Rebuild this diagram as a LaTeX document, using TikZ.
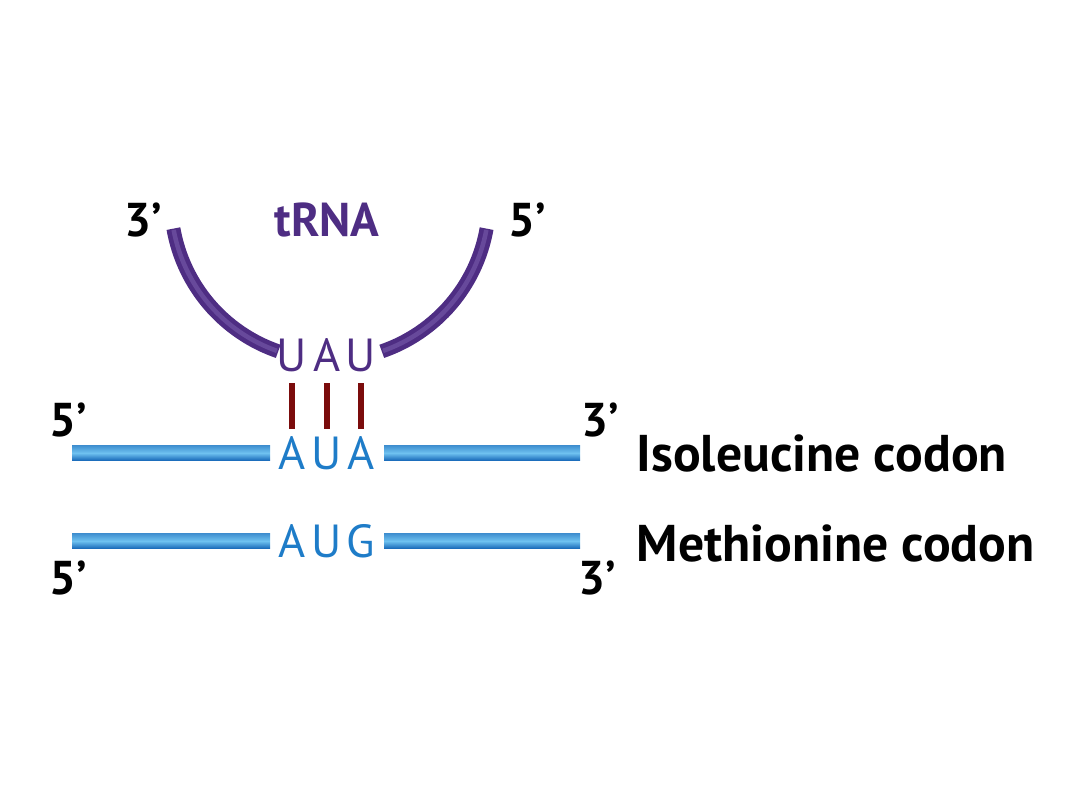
\documentclass[tikz,border=0pt]{standalone}
\usepackage{fontspec}
\setmainfont{PT Sans}
\usepackage{tikz}
\usetikzlibrary{positioning}

\definecolor{trnapurple}{HTML}{4E2D83}
\definecolor{trnalight}{HTML}{8165B3}
\definecolor{bondred}{HTML}{7B0C0C}
\definecolor{mrnablue}{HTML}{1E7CC8}
\definecolor{mrnalight}{HTML}{6FC2F0}
\definecolor{mrnadark}{HTML}{1768B8}

\begin{document}
\begin{tikzpicture}[
  endlabel/.style={font=\fontsize{13.5}{16}\selectfont\bfseries, inner sep=0pt},
  codonlabel/.style={font=\fontsize{14.7}{18}\selectfont\bfseries, inner sep=0pt, anchor=west},
  trnabase/.style={font=\fontsize{13.2}{15}\selectfont, text=trnapurple, inner sep=0pt},
  mrnabase/.style={font=\fontsize{13.2}{15}\selectfont, text=mrnablue, inner sep=0pt},
  bond/.style={draw=bondred, line width=0.55mm, shorten <=1.1mm, shorten >=0.7mm},
  strand/.style={top color=mrnablue!85!white, bottom color=mrnadark, middle color=mrnalight},
]
  \useasboundingbox (0,0) rectangle (10.8,8.1);

  % tRNA anticodon loop
  \draw[trnapurple, line width=1.4mm] (3.30,6.09) ++(190:1.59) arc[start angle=190, end angle=251, radius=1.59];
  \draw[trnapurple, line width=1.4mm] (3.30,6.09) ++(289:1.59) arc[start angle=289, end angle=350, radius=1.59];
  \draw[trnalight, line width=0.45mm, opacity=0.5] (3.30,6.09) ++(190.5:1.59) arc[start angle=190.5, end angle=250.5, radius=1.59];
  \draw[trnalight, line width=0.45mm, opacity=0.5] (3.30,6.09) ++(289.5:1.59) arc[start angle=289.5, end angle=349.5, radius=1.59];

  \node[endlabel, text=trnapurple] (trna) at (3.27,5.90) {tRNA};
  \node[endlabel] (t3) at (1.43,5.90) {3’};
  \node[endlabel] (t5) at (5.27,5.90) {5’};

  % anticodon
  \node[trnabase] (u1) at (2.92,4.55) {U};
  \node[trnabase] (a1) at (3.27,4.55) {A};
  \node[trnabase] (u2) at (3.61,4.55) {U};

  % isoleucine codon
  \node[mrnabase] (c1) at (2.92,3.57) {A};
  \node[mrnabase] (c2) at (3.27,3.57) {U};
  \node[mrnabase] (c3) at (3.61,3.57) {A};

  % methionine codon
  \node[mrnabase] (m1) at (2.92,2.69) {A};
  \node[mrnabase] (m2) at (3.27,2.69) {U};
  \node[mrnabase] (m3) at (3.61,2.69) {G};

  % base pairs
  \draw[bond] (u1.south) -- (c1.north);
  \draw[bond] (a1.south) -- (c2.north);
  \draw[bond] (u2.south) -- (c3.north);

  % mRNA strands
  \shade[strand] (0.72,3.495) rectangle (2.70,3.645);
  \shade[strand] (3.84,3.495) rectangle (5.80,3.645);
  \shade[strand] (0.72,2.615) rectangle (2.70,2.765);
  \shade[strand] (3.84,2.615) rectangle (5.80,2.765);

  \node[endlabel] (i5) at (0.68,3.90) {5’};
  \node[endlabel] (i3) at (6.00,3.90) {3’};
  \node[endlabel] (n5) at (0.68,2.32) {5’};
  \node[endlabel] (n3) at (5.97,2.32) {3’};

  \node[codonlabel] (ile) at (6.36,3.57) {Isoleucine codon};
  \node[codonlabel] (met) at (6.36,2.67) {Methionine codon};
\end{tikzpicture}
\end{document}
